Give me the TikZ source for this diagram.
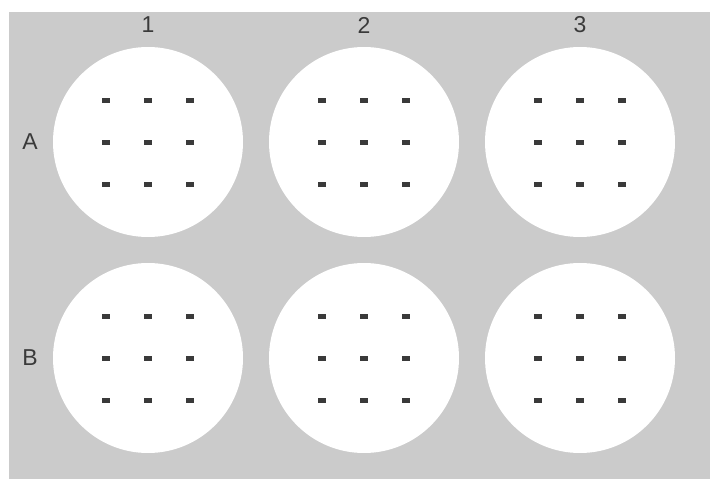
\documentclass[tikz,border=0pt]{standalone}
\usepackage{fontspec}
\setmainfont{Liberation Sans}
\usepackage{xcolor}
\usetikzlibrary{positioning}

\definecolor{plategray}{HTML}{CBCBCB}
\definecolor{spotgray}{HTML}{3A3A3A}

\begin{document}
\begin{tikzpicture}[x=1pt, y=-1pt,
  well/.style={circle, fill=white, minimum size=190pt, inner sep=0pt},
  spot/.style={fill=spotgray, minimum width=8pt, minimum height=5pt, inner sep=0pt},
  lbl/.style={font=\fontsize{23}{23}\selectfont, text=spotgray, inner sep=0pt}]
  % ----- page and plate -----
  \useasboundingbox (0, 0) rectangle (710, 479);
  \fill[plategray] (9, 12) rectangle (710, 479);

  % ----- wells, each with a 3x3 grid of spots -----
  \foreach \r/\y in {A/142, B/358} {
    \foreach \c/\x in {1/148, 2/364, 3/580} {
      \node[well] (well\r\c) at (\x, \y) {};
      \foreach \i/\dx in {1/-42, 2/0, 3/42}
        \foreach \j/\dy in {1/-42, 2/0, 3/42}
          \node[spot] (spot\r\c\i\j) at ({\x+\dx}, {\y+\dy}) {};
    }
    \node[lbl] (row\r) at (30, \y) {\r};
  }

  % ----- column numbers -----
  \foreach \c/\x in {1/148, 2/364, 3/580}
    \node[lbl] (col\c) at (\x, 25) {\c};
\end{tikzpicture}
\end{document}
